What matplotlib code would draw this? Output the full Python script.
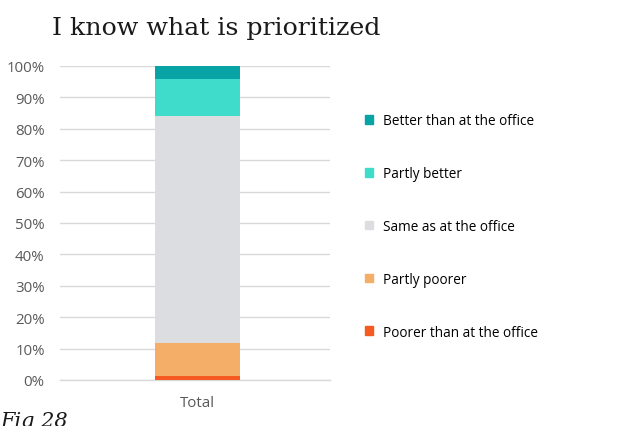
import matplotlib.pyplot as plt
from matplotlib.patches import Patch

categories = ["Total"]
labels = ["Poorer than at the office", "Partly poorer", "Same as at the office",
          "Partly better", "Better than at the office"]
values = [1.3, 10.5, 72.3, 11.8, 4.1]
colors = ["#F55A22", "#F4AE67", "#DCDDE0", "#40DCCB", "#07A3A5"]
yticks = [0, 10, 20, 30, 40, 50, 60, 70, 80, 90, 100]

fig = plt.figure(figsize=(6.24, 4.27), dpi=100)
ax = fig.add_axes([60/624, 46/427, 270/624, 314/427])

bottom = 0
for v, c, lab in zip(values, colors, labels):
    ax.bar(categories, [v], bottom=bottom, width=0.315, color=c, label=lab, zorder=3)
    bottom += v

ax.set_xlim(-0.51, 0.49)
ax.set_ylim(0, 100)
ax.set_yticks(yticks)
ax.set_yticklabels([f"{t}%" for t in yticks], family="Open Sans")
ax.set_xticklabels(categories, family="Open Sans")
ax.grid(axis="y", color="#D9D9D9", linewidth=1, zorder=0)
ax.axhline(0, color="#D9D9D9", linewidth=1, zorder=1, clip_on=False)
for s in ax.spines.values():
    s.set_visible(False)
ax.tick_params(length=0, labelsize=10.8, colors="#595959")
ax.tick_params(axis="y", pad=11)
ax.tick_params(axis="x", pad=11)

fig.text(52/624, 1 - 28/427, "I know what is prioritized", family="DejaVu Serif",
         fontsize=18.2, va="center", ha="left", color="#1a1a1a")
fig.text(0, -4/427, "Fig 28", family="DejaVu Serif", style="italic",
         fontsize=15, va="bottom", ha="left", color="#1a1a1a")

handles = [Patch(color=c) for c in colors][::-1]
fig.legend(handles, labels[::-1], loc="upper left", bbox_to_anchor=(353/624, 1 - 102/427),
           frameon=False, handlelength=0.6, handleheight=0.6,
           handletextpad=0.7, labelspacing=2.78, prop={"family": "Open Sans", "size": 9.8})

fig.savefig("out.png", dpi=100)
